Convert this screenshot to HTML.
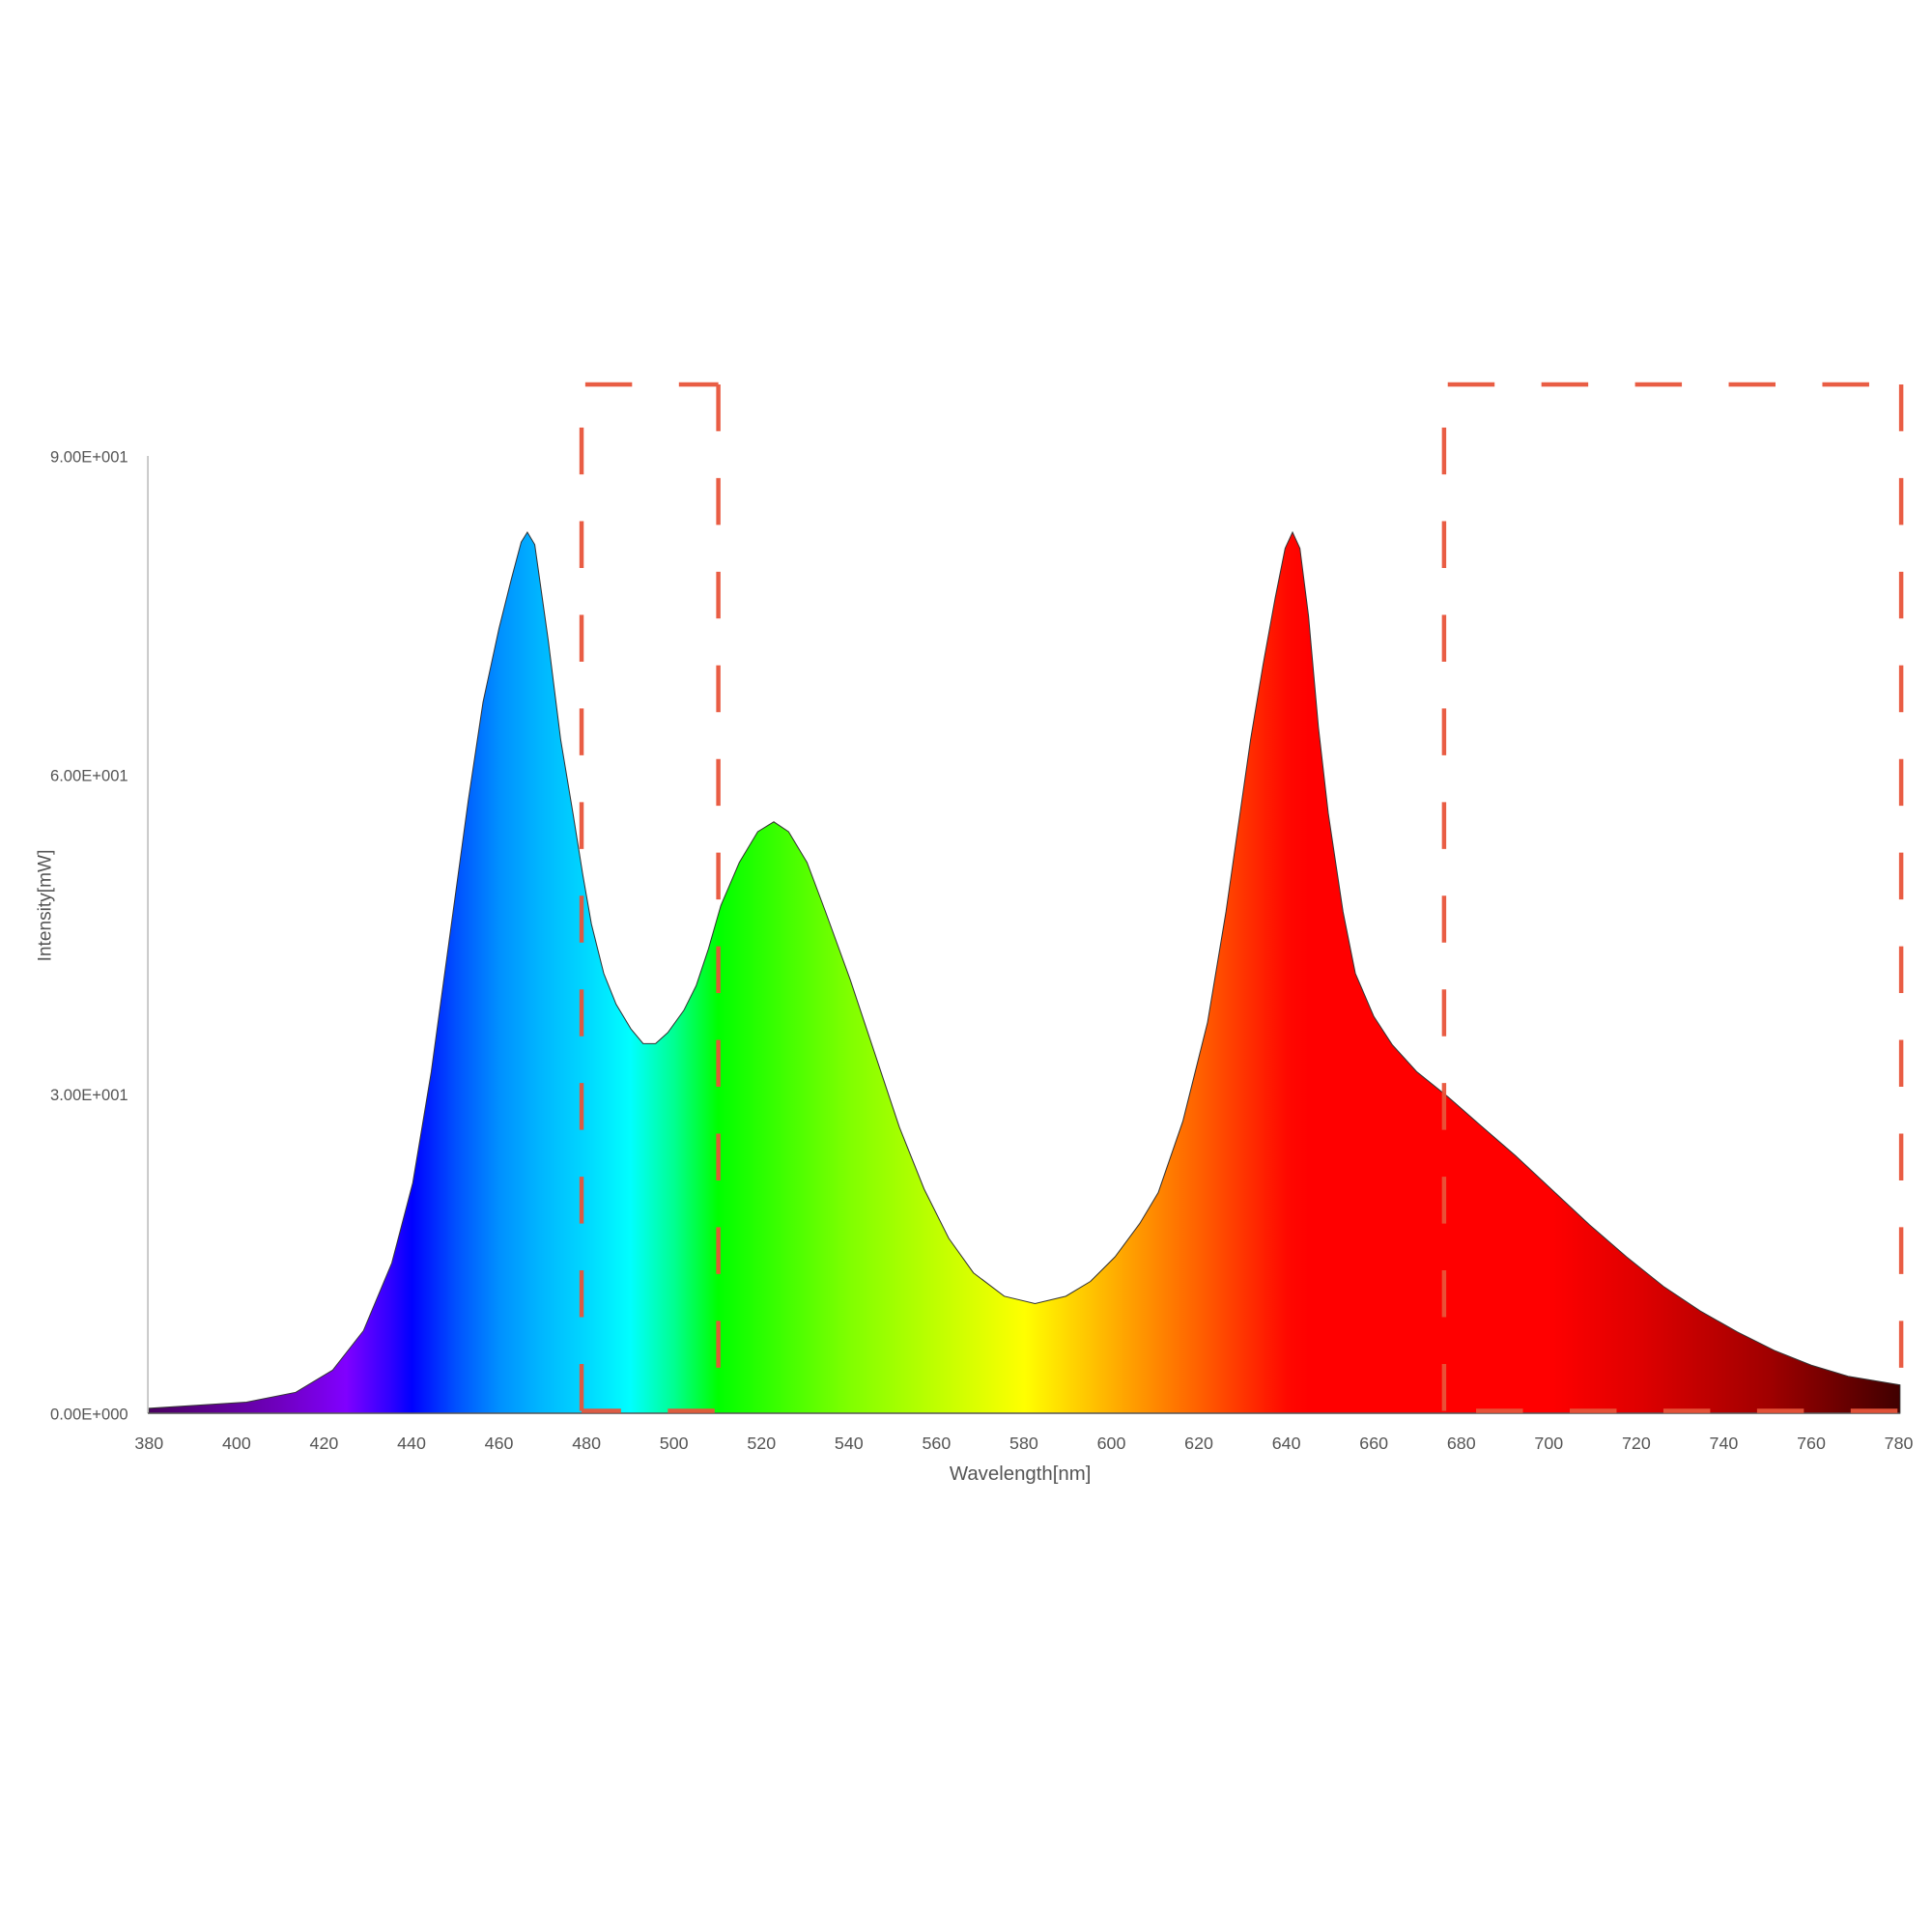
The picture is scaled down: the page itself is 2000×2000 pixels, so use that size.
<!DOCTYPE html>
<html><head><meta charset="utf-8"><style>html,body{margin:0;padding:0;background:#fff}svg{display:block}</style></head>
<body>
<svg width="2000" height="2000" viewBox="0 0 1568 1568" xmlns="http://www.w3.org/2000/svg" font-family="Liberation Sans, sans-serif">
<defs>
<linearGradient id="sp" gradientUnits="userSpaceOnUse" x1="121" y1="0" x2="1542" y2="0">
<stop offset="0" stop-color="#4a0060"/>
<stop offset="0.075" stop-color="#7000c0"/>
<stop offset="0.1125" stop-color="#8000ff"/>
<stop offset="0.1375" stop-color="#3000ff"/>
<stop offset="0.15" stop-color="#0000ff"/>
<stop offset="0.175" stop-color="#0050ff"/>
<stop offset="0.2" stop-color="#0090ff"/>
<stop offset="0.225" stop-color="#00b8ff"/>
<stop offset="0.25" stop-color="#00d8ff"/>
<stop offset="0.275" stop-color="#00ffff"/>
<stop offset="0.3" stop-color="#00ff90"/>
<stop offset="0.325" stop-color="#00ff00"/>
<stop offset="0.4" stop-color="#80ff00"/>
<stop offset="0.5" stop-color="#ffff00"/>
<stop offset="0.55" stop-color="#ffb000"/>
<stop offset="0.6" stop-color="#ff6000"/>
<stop offset="0.65" stop-color="#ff0800"/>
<stop offset="0.6625" stop-color="#ff0000"/>
<stop offset="0.8" stop-color="#ff0000"/>
<stop offset="0.85" stop-color="#e00000"/>
<stop offset="0.925" stop-color="#a00000"/>
<stop offset="1" stop-color="#400000"/>
</linearGradient>
</defs>
<path fill="url(#sp)" stroke="#333" stroke-width="0.8" d="M121,1147 L121,1143 L200,1138 L240,1130 L270,1112 L295,1080 L318,1025 L335,960 L350,870 L365,760 L380,650 L392,570 L405,510 L415,470 L423,440 L428,432 L434,442 L445,520 L455,600 L465,660 L473,710 L480,750 L490,790 L500,815 L512,835 L522,847 L532,847 L542,838 L555,820 L565,800 L575,770 L585,735 L600,700 L615,675 L628,667 L640,675 L655,700 L670,740 L690,795 L710,855 L730,915 L750,965 L770,1005 L790,1033 L815,1052 L840,1058 L865,1052 L885,1040 L905,1020 L925,993 L940,968 L960,910 L980,830 L995,740 L1005,670 L1015,600 L1025,540 L1035,485 L1043,445 L1049,432 L1055,445 L1062,500 L1070,590 L1078,660 L1090,740 L1100,790 L1115,825 L1130,848 L1150,870 L1175,890 L1200,912 L1230,938 L1260,966 L1290,994 L1320,1020 L1350,1044 L1380,1064 L1410,1081 L1440,1096 L1470,1108 L1500,1117 L1530,1122 L1542,1124 L1542,1147 Z"/>
<line x1="120" y1="370" x2="120" y2="1147" stroke="#bbb" stroke-width="1.2"/>
<line x1="120" y1="1147" x2="1542" y2="1147" stroke="#555" stroke-width="1.2"/>
<g font-size="13" fill="#555" text-anchor="end">
<text x="104" y="375">9.00E+001</text>
<text x="104" y="634">6.00E+001</text>
<text x="104" y="893">3.00E+001</text>
<text x="104" y="1152">0.00E+000</text>
</g>
<g font-size="14" fill="#555" text-anchor="middle">
<text x="121" y="1176">380</text><text x="192" y="1176">400</text><text x="263" y="1176">420</text><text x="334" y="1176">440</text><text x="405" y="1176">460</text><text x="476" y="1176">480</text><text x="547" y="1176">500</text><text x="618" y="1176">520</text><text x="689" y="1176">540</text><text x="760" y="1176">560</text><text x="831" y="1176">580</text><text x="902" y="1176">600</text><text x="973" y="1176">620</text><text x="1044" y="1176">640</text><text x="1115" y="1176">660</text><text x="1186" y="1176">680</text><text x="1257" y="1176">700</text><text x="1328" y="1176">720</text><text x="1399" y="1176">740</text><text x="1470" y="1176">760</text><text x="1541" y="1176">780</text>
<text x="828" y="1201" font-size="16">Wavelength[nm]</text>
<text transform="translate(41,735) rotate(-90)" font-size="15">Intensity[mW]</text>
</g>
<g fill="none" stroke="#e8553a" stroke-width="3.5" stroke-dasharray="38 38" opacity="0.95">
<path d="M472,1145 L472,312 L583,312"/>
<path d="M583,312 L583,1145 L472,1145"/>
<path d="M1172,1145 L1172,312 L1543,312"/>
<path d="M1543,312 L1543,1145 L1172,1145"/>
</g>
</svg>
</body></html>
